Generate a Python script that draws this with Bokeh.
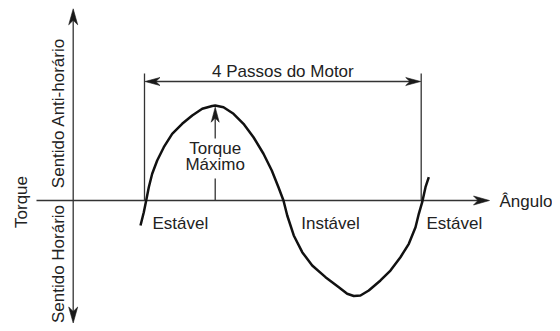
import math
from bokeh.plotting import figure
from bokeh.models import Range1d
from bokeh.core.properties import value
from bokeh.embed import file_html
from bokeh.resources import INLINE

# ---- data (angle in electrical degrees, torque normalised) ----
angle_deg = [-5.2, -0.9, 2.2, 5.6, 10.0, 16.5, 25.1, 36.0, 49.0, 62.1, 75.1, 88.1, 92.0,
             102.8, 115.8, 128.8, 141.8, 154.8, 165.6, 174.3, 180.8, 185.7, 194.2, 205.2,
             218.2, 235.5, 252.8, 263.7, 272.3, 281.0, 291.8, 307.0, 320.0, 333.0, 343.9,
             352.6, 356.9, 361.3, 365.6, 369.9]
torque = [-0.263, -0.123, 0.0, 0.140, 0.281, 0.421, 0.561, 0.702, 0.807, 0.895, 0.965, 0.995, 1.0,
          0.982, 0.913, 0.807, 0.666, 0.492, 0.316, 0.140, 0.0, -0.158, -0.368, -0.544,
          -0.684, -0.807, -0.913, -0.982, -1.005, -1.0, -0.947, -0.842, -0.737, -0.597, -0.456,
          -0.281, -0.140, -0.018, 0.140, 0.245]
step_bounds = [0, 360]                      # 4 motor steps
step_label = "4 Passos do Motor"
peak_label = ["Torque", "Máximo"]
zone_labels = ["Estável", "Instável", "Estável"]
zone_label_angle = [10.4, 203.9, 366.9]
x_label = "Ângulo"
y_label = "Torque"
dir_labels = ["Sentido Anti-horário", "Sentido Horário"]

# ---- layout (figure pixels -> data) ----
W, H = 552, 323
KX = 0.76861            # px per degree
KY = 95.0               # px per torque unit
OX, OY = 144.0, 200.0   # px of (0 deg, 0 torque)
BL = 5.5                # baseline correction (px)

def X(px):
    return (px - OX) / KX

def Y(py):
    return (OY - py) / KY

FONT = value("Liberation Sans")
FS = "17px"
TXT = "#222222"
LINE = "#333333"

p = figure(width=W, height=H, output_backend="svg", toolbar_location=None,
           x_range=Range1d(X(0), X(W)), y_range=Range1d(Y(H), Y(0)),
           min_border=0, outline_line_color=None, background_fill_color="white",
           border_fill_color="white")
p.axis.visible = False
p.grid.visible = False


def head(tx, ty, dx, dy, L=16, Wd=9):
    n = math.hypot(dx, dy)
    dx, dy = dx / n, dy / n
    nx, ny = -dy, dx
    pts = [(tx, ty),
           (tx - L * dx + Wd / 2 * nx, ty - L * dy + Wd / 2 * ny),
           (tx - 0.72 * L * dx, ty - 0.72 * L * dy),
           (tx - L * dx - Wd / 2 * nx, ty - L * dy - Wd / 2 * ny)]
    return [X(a) for a, b in pts], [Y(b) for a, b in pts]

heads_x, heads_y = [], []

# axes
p.segment(x0=[X(36)], y0=[0], x1=[X(480)], y1=[0], line_color=LINE, line_width=1.3)
hx, hy = head(489, OY, 1, 0); heads_x.append(hx); heads_y.append(hy)
ax_px = 72.7
p.segment(x0=[X(ax_px)], y0=[Y(16)], x1=[X(ax_px)], y1=[Y(314)], line_color=LINE, line_width=1.3)
hx, hy = head(ax_px, 8.3, 0, -1); heads_x.append(hx); heads_y.append(hy)
hx, hy = head(ax_px, 322.5, 0, 1); heads_x.append(hx); heads_y.append(hy)

# step boundaries & dimension arrow
dim_top = Y(73)
dim_y = Y(81)
p.segment(x0=step_bounds, y0=[dim_top] * 2, x1=step_bounds, y1=[0, 0],
          line_color=LINE, line_width=1.3)
p.segment(x0=[step_bounds[0] + 8 / KX], y0=[dim_y], x1=[step_bounds[1] - 8 / KX], y1=[dim_y],
          line_color=LINE, line_width=1.3)
bx0 = OX + step_bounds[0] * KX
bx1 = OX + step_bounds[1] * KX
hx, hy = head(bx0 + 0.5, 81, -1, 0, L=15, Wd=8); heads_x.append(hx); heads_y.append(hy)
hx, hy = head(bx1 - 0.5, 81, 1, 0, L=15, Wd=8); heads_x.append(hx); heads_y.append(hy)
p.text(x=[(step_bounds[0] + step_bounds[1]) / 2], y=[Y(76 - BL)], text=[step_label],
       text_font=FONT, text_font_size=FS, text_color=TXT,
       text_align="center", text_baseline="alphabetic")

# torque curve
p.line(angle_deg, torque, line_color="#111111", line_width=2.5, line_join="round")

# peak arrow
i_pk = max(range(len(torque)), key=lambda i: torque[i])
pk_a = angle_deg[i_pk]
pk_px = OX + pk_a * KX
tip_py = OY - torque[i_pk] * KY + 1.7
p.segment(x0=[pk_a, pk_a], y0=[Y(tip_py + 10), Y(178)], x1=[pk_a, pk_a], y1=[Y(138), 0],
          line_color=LINE, line_width=1.3)
hx, hy = head(pk_px, tip_py, 0, -1, L=15, Wd=8); heads_x.append(hx); heads_y.append(hy)
p.text(x=[pk_a, pk_a], y=[Y(153.5 - BL), Y(169.5 - BL)], text=peak_label,
       text_font=FONT, text_font_size=FS, text_color=TXT,
       text_align="center", text_baseline="alphabetic")

p.patches(heads_x, heads_y, fill_color="#1a1a1a", line_color="#1a1a1a", line_width=0.6)

# zone labels
p.text(x=zone_label_angle, y=[Y(228.5 - BL)] * 3, text=zone_labels,
       text_font=FONT, text_font_size=FS, text_color=TXT,
       text_align="left", text_baseline="alphabetic")

# axis labels
p.text(x=[X(499)], y=[Y(206.5 - BL)], text=[x_label],
       text_font=FONT, text_font_size=FS, text_color=TXT,
       text_align="left", text_baseline="alphabetic")
p.text(x=[X(26.5 - BL)], y=[Y(201.5)], text=[y_label], angle=math.pi / 2,
       text_font=FONT, text_font_size=FS, text_color=TXT,
       text_align="center", text_baseline="alphabetic")
p.text(x=[X(63.5 - BL), X(63 - BL)], y=[Y(112.5), Y(263.5)], text=dir_labels, angle=math.pi / 2,
       text_font=FONT, text_font_size=FS, text_color=TXT,
       text_align="center", text_baseline="alphabetic")

open("out.html", "w").write(file_html(p, INLINE))
